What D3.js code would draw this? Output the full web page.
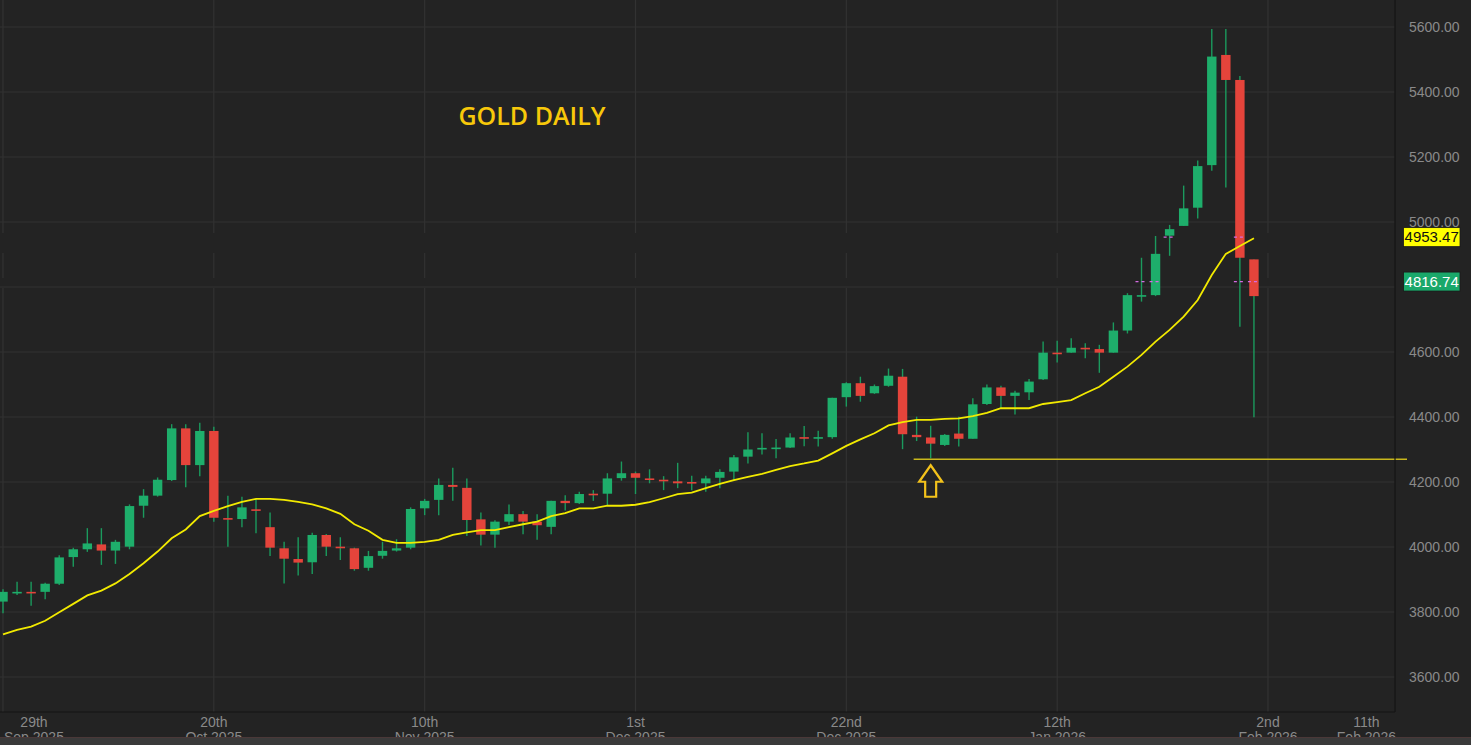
<!DOCTYPE html>
<html><head><meta charset="utf-8">
<script src="https://cdn.jsdelivr.net/npm/d3@7"></script>
<style>html,body{margin:0;padding:0;background:#232323;overflow:hidden}</style>
</head><body>
<svg id="c" width="1471" height="745"></svg>
<script>
// ---- data ----
const opens  = [3832,3860,3862,3862,3887,3969,3993,4008,3989,4001,4127,4158,4206,4365,4252,4357,4089,4086,4116,4061,3996,3963,3953,4037,4001,3996,3936,3973,3989,3998,4119,4145,4191,4182,4085,4038,4078,4101,4078,4062,4142,4135,4164,4164,4212,4227,4211,4207,4202,4200,4196,4213,4232,4278,4302,4303,4306,4338,4335,4338,4461,4504,4473,4496,4524,4345,4337,4314,4349,4333,4440,4491,4465,4476,4516,4598,4598,4613,4609,4598,4666,4772,4775,4958,4988,5044,5175,5514,5437,4885];
const highs  = [3870,3893,3893,3890,3975,3998,4058,4058,4022,4131,4178,4214,4378,4378,4382,4370,4158,4155,4148,4106,4016,4030,4044,4040,4030,3998,3988,4016,4024,4122,4148,4211,4244,4211,4106,4082,4131,4111,4101,4142,4159,4170,4175,4227,4263,4232,4239,4218,4259,4219,4219,4239,4283,4353,4350,4332,4350,4372,4358,4459,4507,4524,4500,4549,4548,4401,4373,4348,4401,4458,4500,4496,4481,4517,4632,4635,4642,4627,4622,4691,4781,4890,4957,4991,5112,5189,5594,5594,5449,4885];
const lows   = [3796,3852,3819,3839,3883,3939,3985,3945,3948,3993,4090,4155,4203,4184,4218,4078,4001,4061,4042,3972,3888,3912,3917,3972,3960,3927,3927,3964,3986,3993,4098,4098,4142,4034,4005,3998,4068,4039,4022,4039,4112,4132,4142,4129,4204,4163,4196,4175,4181,4175,4170,4181,4206,4257,4285,4273,4305,4310,4309,4333,4432,4447,4471,4493,4301,4326,4273,4311,4309,4333,4437,4427,4408,4452,4514,4568,4598,4581,4536,4598,4657,4755,4772,4896,4988,5011,5158,5106,4678,4399];
const closes = [3862,3862,3859,3887,3968,3993,4011,3989,4016,4126,4158,4207,4365,4252,4357,4090,4086,4122,4112,3998,3964,3952,4037,4001,3999,3932,3972,3988,3996,4117,4142,4191,4185,4083,4038,4078,4101,4078,4067,4142,4135,4163,4160,4211,4227,4213,4209,4205,4196,4196,4211,4231,4276,4300,4305,4306,4337,4335,4338,4459,4504,4465,4495,4527,4347,4338,4318,4345,4333,4439,4491,4465,4475,4509,4598,4594,4613,4610,4598,4666,4775,4775,4902,4978,5042,5172,5509,5437,4890,4772];
const ma20   = [3731,3745,3755,3773,3799,3825,3851,3866,3888,3917,3950,3986,4027,4054,4095,4111,4126,4139,4148,4148,4145,4139,4131,4119,4102,4070,4050,4022,4013,4013,4016,4022,4037,4045,4052,4052,4061,4070,4078,4095,4104,4119,4119,4127,4127,4130,4138,4150,4163,4167,4181,4194,4206,4216,4225,4237,4249,4257,4266,4288,4311,4331,4350,4374,4384,4391,4391,4394,4396,4403,4413,4427,4427,4427,4440,4446,4452,4473,4493,4524,4555,4591,4632,4668,4709,4760,4837,4902,4926,4950];
const yTicks = [3600,3800,4000,4200,4400,4600,4800,5000,5200,5400,5600];
const xTickIndex = [0,15,30,45,60,75,90,97];
const xTickDay   = ["29th","20th","10th","1st","22nd","12th","2nd","11th"];
const xTickMonth = ["Sep 2025","Oct 2025","Nov 2025","Dec 2025","Dec 2025","Jan 2026","Feb 2026","Feb 2026"];
const gridIndex  = [0,15,30,45,60,75,90];
const maLast = 4953.47, lastPrice = 4816.74, supportLevel = 4270, arrowIndex = 66;
const lastMarkIdx = [81,82,88,89], maMarkIdx = [83,88];
const title = "GOLD DAILY";

// ---- layout ----
const W = 1471, H = 745;
const plotR = 1395, plotB = 712;
const svg = d3.select("#c");
const x = d3.scaleLinear().domain([0, 90]).range([3, 1268]);
const y = d3.scaleLinear().domain([3600, 5600]).range([677, 27]);

svg.append("rect").attr("width", W).attr("height", H).attr("fill", "#232323");

// horizontal grid
svg.append("g").selectAll("line").data(yTicks).join("line")
  .attr("x1", 0).attr("x2", plotR).attr("y1", d => y(d)).attr("y2", d => y(d))
  .attr("stroke", "#323232").attr("stroke-width", 1.2);

// vertical grid (with gaps where the price labels are)
const segs = [[0, 233], [253, 278], [288, plotB]];
gridIndex.forEach(i => {
  segs.forEach(s => {
    svg.append("line").attr("x1", x(i)).attr("x2", x(i)).attr("y1", s[0]).attr("y2", s[1])
      .attr("stroke", "#323232").attr("stroke-width", 1.2);
  });
});

// title
svg.append("text").attr("x", 532).attr("y", 125).attr("text-anchor", "middle")
  .attr("font-family", "'Open Sans', 'Noto Sans', sans-serif").attr("font-weight", 600)
  .attr("font-size", 25).attr("fill", "#f7c80a").text(title);

// candles
const bodyW = 9.4;
const green = "#1eae6b", red = "#e5443b", wick = "#1b9a5d";
const idx = d3.range(opens.length);
const cg = svg.append("g");
cg.selectAll("line.w").data(idx).join("line").attr("class", "w")
  .attr("x1", i => x(i)).attr("x2", i => x(i))
  .attr("y1", i => y(highs[i])).attr("y2", i => y(lows[i]))
  .attr("stroke", wick).attr("stroke-width", 1.4);
cg.selectAll("rect.b").data(idx).join("rect").attr("class", "b")
  .attr("x", i => x(i) - bodyW / 2).attr("width", bodyW)
  .attr("y", i => y(Math.max(opens[i], closes[i])))
  .attr("height", i => Math.max(1.6, Math.abs(y(opens[i]) - y(closes[i]))))
  .attr("fill", i => closes[i] >= opens[i] ? green : red);

// small magenta markers at label levels
function marks(list, v) {
  svg.append("g").selectAll("line").data(list).join("line")
    .attr("x1", i => x(i) - 6).attr("x2", i => x(i) + 6).attr("y1", y(v)).attr("y2", y(v))
    .attr("stroke", "#d66be2").attr("stroke-width", 1.2).attr("stroke-dasharray", "3,3");
}
marks(lastMarkIdx, lastPrice);
marks(maMarkIdx, maLast);

// moving average
const line = d3.line().x((d, i) => x(i)).y(d => y(d));
svg.append("path").datum(ma20).attr("d", line).attr("fill", "none")
  .attr("stroke", "#f2ea00").attr("stroke-width", 1.8);

// support line
svg.append("line").attr("x1", x(arrowIndex) - 17).attr("x2", 1407)
  .attr("y1", y(supportLevel)).attr("y2", y(supportLevel))
  .attr("stroke", "#c9b81c").attr("stroke-width", 1.3);

// arrow
const ax = x(arrowIndex), at = y(supportLevel) + 6;
const arrowPts = [[ax, at], [ax + 11.5, at + 16.5], [ax + 5.5, at + 16.5], [ax + 5.5, at + 31.5],
                  [ax - 5.5, at + 31.5], [ax - 5.5, at + 16.5], [ax - 11.5, at + 16.5]];
svg.append("polygon").attr("points", arrowPts.map(p => p.join(",")).join(" "))
  .attr("fill", "none").attr("stroke", "#f3c21b").attr("stroke-width", 2.2).attr("stroke-linejoin", "miter");

// borders
svg.append("line").attr("x1", plotR).attr("x2", plotR).attr("y1", 0).attr("y2", plotB)
  .attr("stroke", "#141414").attr("stroke-width", 1.2);
svg.append("line").attr("x1", 0).attr("x2", plotR).attr("y1", plotB).attr("y2", plotB)
  .attr("stroke", "#141414").attr("stroke-width", 1.2);

// right axis (a tick label hidden under a price label in the reference is left out)
const coveredBy = v => [maLast, lastPrice].some(p => Math.abs(y(p) - y(v)) < 8);
const yAxis = d3.axisRight(y).tickValues(yTicks)
  .tickFormat(d => coveredBy(d) ? "" : d3.format(".2f")(d)).tickSize(0).tickPadding(0);
const ya = svg.append("g").attr("transform", `translate(1409,0)`).call(yAxis);
ya.select(".domain").remove();
ya.selectAll("text").attr("font-family", "'Liberation Sans', Arial, sans-serif")
  .attr("font-size", 14).attr("fill", "#8a8a8a");

// price labels
function priceLabel(v, bg, fg) {
  const g = svg.append("g").attr("transform", `translate(1403.5,${y(v)})`);
  g.append("rect").attr("x", 0).attr("y", -9.5).attr("width", 56.5).attr("height", 19)
    .attr("fill", bg).attr("stroke", "#1a1a1a").attr("stroke-width", 0.8);
  g.append("text").attr("x", 28.2).attr("y", 5.3).attr("text-anchor", "middle")
    .attr("font-family", "'Liberation Sans', Arial, sans-serif").attr("font-size", 15)
    .attr("fill", fg).text(d3.format(".2f")(v));
}
priceLabel(maLast, "#ffff00", "#111");
priceLabel(lastPrice, "#1aa86a", "#ffffff");

// bottom axis labels
const xg = svg.append("g");
xTickIndex.forEach((i, k) => {
  const t = xg.append("text").attr("text-anchor", "middle")
    .attr("font-family", "'Liberation Sans', Arial, sans-serif").attr("font-size", 14).attr("fill", "#8a8a8a");
  t.append("tspan").attr("x", x(i)).attr("y", 727).text(xTickDay[k]);
  t.append("tspan").attr("x", x(i)).attr("y", 742).text(xTickMonth[k]);
  const bb = t.node().getBBox();
  if (bb.x < 4) {
    const cx = x(i) + (4 - bb.x);
    t.selectAll("tspan").attr("x", cx);
  }
});

// bottom window strip
svg.append("rect").attr("x", 0).attr("y", 737).attr("width", W).attr("height", 8).attr("fill", "#3a3a3a");
svg.append("line").attr("x1", 0).attr("x2", W).attr("y1", 737.5).attr("y2", 737.5)
  .attr("stroke", "#4a3838").attr("stroke-width", 1);
</script>
</body></html>
